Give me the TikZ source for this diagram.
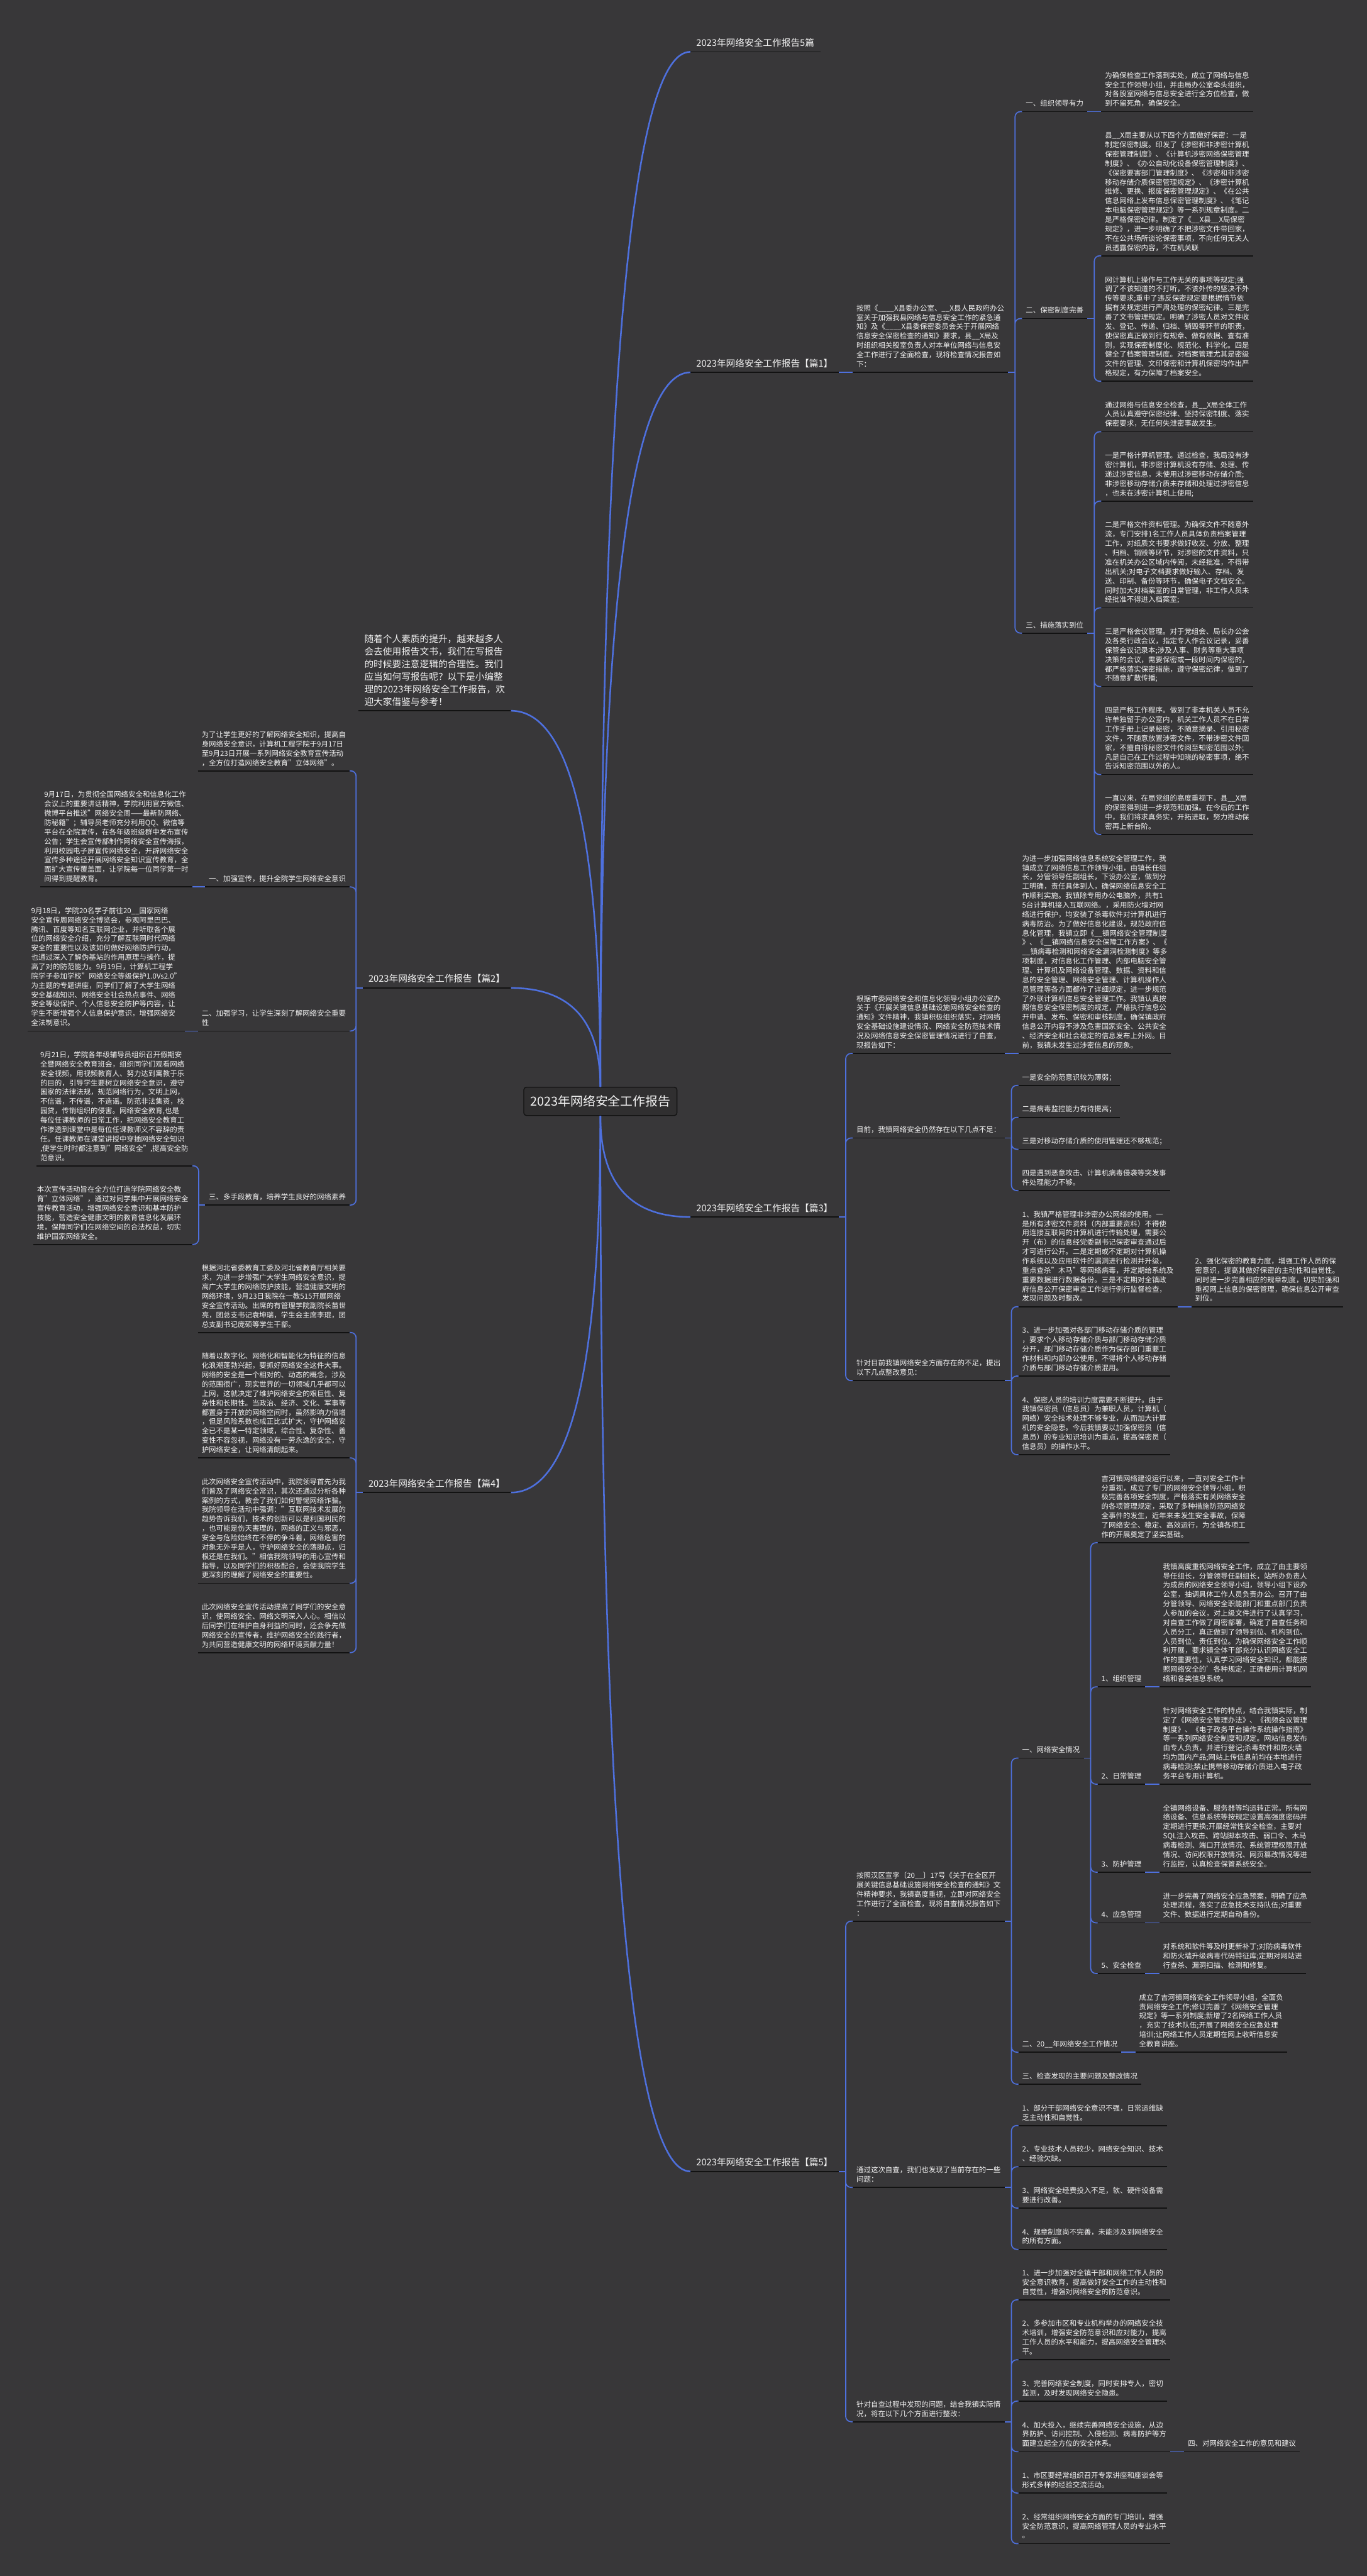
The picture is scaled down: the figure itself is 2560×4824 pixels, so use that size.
\documentclass[tikz,border=0pt]{standalone}
\usepackage{fontspec}
\setmainfont{Noto Sans CJK SC}
\usetikzlibrary{positioning,calc}
\definecolor{bgdark}{RGB}{56,55,57}
\definecolor{wireblue}{RGB}{78,112,222}
\definecolor{inkwhite}{RGB}{242,242,242}
\definecolor{baseblack}{RGB}{18,18,18}

\begin{document}
\begin{tikzpicture}[x=1pt, y=-1pt,
  uline/.style={draw=baseblack, line width=2pt},
  txtnode/.style={font=\fontsize{13.5}{17.5}\selectfont, text=inkwhite, align=left,
    inner xsep=7pt, inner ysep=4.75pt, execute at end node=\strut,
    append after command={\pgfextra{\let\mainnode=\tikzlastnode}
      (\mainnode.south west) edge[uline] (\mainnode.south east)}},
  topic/.style={txtnode, font=\fontsize{17.3}{23.5}\selectfont, inner xsep=11pt, inner ysep=3.4pt},
  hub/.style={draw=baseblack, line width=1.6pt, rounded corners=5pt, fill=bgdark!85!black,
    text=inkwhite, font=\fontsize{23.4}{28}\selectfont, minimum width=287pt, minimum height=53pt},
  wire/.style={draw=wireblue, line width=2pt},
  fork/.style={wire, rounded corners=10pt, to path={|- (\tikztotarget)}},
  trunk/.style={draw=wireblue, line width=3pt,
    to path={.. controls ($(\tikztostart)!0.667!(\tikztostart|-\tikztotarget)$)
      and ($(\tikztotarget)!0.667!(\tikztostart|-\tikztotarget)$) .. (\tikztotarget)}}
]
\useasboundingbox (0,0) rectangle (2560,4824);
\fill[bgdark] (0,0) rectangle (2560,4824);

\node[hub] (root) at (1124.5,2062.5) {2023年网络安全工作报告};

\node[topic, anchor=south west] (all5) at (1293,97) {2023年网络安全工作报告5篇};

\node[topic, anchor=south west] (p1) at (1293,697.3) {2023年网络安全工作报告【篇1】};
\node[txtnode, right=26pt of p1.south east, anchor=south west] (p1lead) {按照《\_\_\_\_X县委办公室、\_\_X县人民政府办公\\
室关于加强我县网络与信息安全工作的紧急通\\
知》及《\_\_\_\_X县委保密委员会关于开展网络\\
信息安全保密检查的通知》要求，县\_\_X局及\\
时组织相关股室负责人对本单位网络与信息安\\
全工作进行了全面检查，现将检查情况报告如\\
下：};
\node[txtnode, anchor=south west, xshift=26pt] (p1org) at (p1lead.south east|-0,209) {一、组织领导有力};
\node[txtnode, right=26pt of p1org.south east, anchor=south west] (p1orgtxt) {为确保检查工作落到实处，成立了网络与信息\\
安全工作领导小组，并由局办公室牵头组织，\\
对各股室网络与信息安全进行全方位检查，做\\
到不留死角，确保安全。};
\node[txtnode, anchor=south west, xshift=26pt] (p1rule) at (p1lead.south east|-0,596.5) {二、保密制度完善};
\node[txtnode, anchor=south west, xshift=26pt] (p1rulea) at (p1rule.south east|-0,479) {县\_\_X局主要从以下四个方面做好保密：一是\\
制定保密制度。印发了《涉密和非涉密计算机\\
保密管理制度》、《计算机涉密网络保密管理\\
制度》、《办公自动化设备保密管理制度》、\\
《保密要害部门管理制度》、《涉密和非涉密\\
移动存储介质保密管理规定》、《涉密计算机\\
维修、更换、报废保密管理规定》、《在公共\\
信息网络上发布信息保密管理制度》、《笔记\\
本电脑保密管理规定》等一系列规章制度。二\\
是严格保密纪律。制定了《\_\_X县\_\_X局保密\\
规定》，进一步明确了不把涉密文件带回家，\\
不在公共场所谈论保密事项，不向任何无关人\\
员透露保密内容，不在机关联};
\node[txtnode, anchor=south west, xshift=26pt] (p1ruleb) at (p1rule.south east|-0,714) {网计算机上操作与工作无关的事项等规定;强\\
调了不该知道的不打听，不该外传的坚决不外\\
传等要求;重申了违反保密规定要根据情节依\\
据有关规定进行严肃处理的保密纪律。三是完\\
善了文书管理规定。明确了涉密人员对文件收\\
发、登记、传递、归档、销毁等环节的职责，\\
使保密真正做到行有规章、做有依据、查有准\\
则，实现保密制度化、规范化、科学化。四是\\
健全了档案管理制度。对档案管理尤其是密级\\
文件的管理、文印保密和计算机保密均作出严\\
格规定，有力保障了档案安全。};
\node[txtnode, anchor=south west, xshift=26pt] (p1act) at (p1lead.south east|-0,1185.6) {三、措施落实到位};
\node[txtnode, anchor=south west, xshift=26pt] (p1acta) at (p1act.south east|-0,808.5) {通过网络与信息安全检查，县\_\_X局全体工作\\
人员认真遵守保密纪律、坚持保密制度、落实\\
保密要求，无任何失泄密事故发生。};
\node[txtnode, anchor=south west, xshift=26pt] (p1actb) at (p1act.south east|-0,938.4) {一是严格计算机管理。通过检查，我局没有涉\\
密计算机，非涉密计算机没有存储、处理、传\\
递过涉密信息，未使用过涉密移动存储介质;\\
非涉密移动存储介质未存储和处理过涉密信息\\
，也未在涉密计算机上使用;};
\node[txtnode, anchor=south west, xshift=26pt] (p1actc) at (p1act.south east|-0,1138.3) {二是严格文件资料管理。为确保文件不随意外\\
流，专门安排1名工作人员具体负责档案管理\\
工作，对纸质文书要求做好收发、分放、整理\\
、归档、销毁等环节，对涉密的文件资料，只\\
准在机关办公区域内传阅，未经批准，不得带\\
出机关;对电子文档要求做好输入、存档、发\\
送、印制、备份等环节，确保电子文档安全。\\
同时加大对档案室的日常管理，非工作人员未\\
经批准不得进入档案室;};
\node[txtnode, anchor=south west, xshift=26pt] (p1actd) at (p1act.south east|-0,1285.6) {三是严格会议管理。对于党组会、局长办公会\\
及各类行政会议，指定专人作会议记录，妥善\\
保管会议记录本;涉及人事、财务等重大事项\\
决策的会议，需要保密或一段时间内保密的，\\
都严格落实保密措施，遵守保密纪律，做到了\\
不随意扩散传播;};
\node[txtnode, anchor=south west, xshift=26pt] (p1acte) at (p1act.south east|-0,1450.5) {四是严格工作程序。做到了非本机关人员不允\\
许单独留于办公室内，机关工作人员不在日常\\
工作手册上记录秘密，不随意摘录、引用秘密\\
文件，不随意放置涉密文件，不带涉密文件回\\
家，不擅自将秘密文件传阅至知密范围以外;\\
凡是自己在工作过程中知晓的秘密事项，绝不\\
告诉知密范围以外的人。};
\node[txtnode, anchor=south west, xshift=26pt] (p1actf) at (p1act.south east|-0,1562.8) {一直以来，在局党组的高度重视下，县\_\_X局\\
的保密得到进一步规范和加强。在今后的工作\\
中，我们将求真务实，开拓进取，努力推动保\\
密再上新台阶。};

\node[topic, anchor=south west] (p3) at (1293,2279) {2023年网络安全工作报告【篇3】};
\node[txtnode, anchor=south west, xshift=26pt] (p3basis) at (p3.south east|-0,1972.7) {根据市委网络安全和信息化领导小组办公室办\\
关于《开展关键信息基础设施网络安全检查的\\
通知》文件精神，我镇积极组织落实，对网络\\
安全基础设施建设情况、网络安全防范技术情\\
况及网络信息安全保密管理情况进行了自查，\\
现报告如下：};
\node[txtnode, right=26pt of p3basis.south east, anchor=south west] (p3basistxt) {为进一步加强网络信息系统安全管理工作，我\\
镇成立了网络信息工作领导小组，由镇长任组\\
长，分管领导任副组长，下设办公室，做到分\\
工明确，责任具体到人，确保网络信息安全工\\
作顺利实施。我镇除专用办公电脑外，共有1\\
5台计算机接入互联网络。，采用防火墙对网\\
络进行保护，均安装了杀毒软件对计算机进行\\
病毒防治。为了做好信息化建设，规范政府信\\
息化管理，我镇立即《\_\_镇网络安全管理制度\\
》、《\_\_镇网络信息安全保障工作方案》、《\\
\_\_镇病毒检测和网络安全漏洞检测制度》等多\\
项制度，对信息化工作管理、内部电脑安全管\\
理、计算机及网络设备管理、数据、资料和信\\
息的安全管理、网络安全管理、计算机操作人\\
员管理等各方面都作了详细规定，进一步规范\\
了外联计算机信息安全管理工作。我镇认真按\\
照信息安全保密制度的规定，严格执行信息公\\
开申请、发布、保密和审核制度，确保镇政府\\
信息公开内容不涉及危害国家安全、公共安全\\
、经济安全和社会稳定的信息发布上外网。目\\
前，我镇未发生过涉密信息的现象。};
\node[txtnode, anchor=south west, xshift=26pt] (p3gap) at (p3.south east|-0,2131) {目前，我镇网络安全仍然存在以下几点不足：};
\node[txtnode, anchor=south west, xshift=26pt] (p3gapa) at (p3gap.south east|-0,2032.5) {一是安全防范意识较为薄弱；};
\node[txtnode, anchor=south west, xshift=26pt] (p3gapb) at (p3gap.south east|-0,2092.4) {二是病毒监控能力有待提高；};
\node[txtnode, anchor=south west, xshift=26pt] (p3gapc) at (p3gap.south east|-0,2152.2) {三是对移动存储介质的使用管理还不够规范；};
\node[txtnode, anchor=south west, xshift=26pt] (p3gapd) at (p3gap.south east|-0,2229.6) {四是遇到恶意攻击、计算机病毒侵袭等突发事\\
件处理能力不够。};
\node[txtnode, anchor=south west, xshift=26pt] (p3fix) at (p3.south east|-0,2585.5) {针对目前我镇网络安全方面存在的不足，提出\\
以下几点整改意见：};
\node[txtnode, anchor=south west, xshift=26pt] (p3fixa) at (p3fix.south east|-0,2446.9) {1、我镇严格管理非涉密办公网络的使用。一\\
是所有涉密文件资料（内部重要资料）不得使\\
用连接互联网的计算机进行传输处理，需要公\\
开（布）的信息经党委副书记保密审查通过后\\
才可进行公开。二是定期或不定期对计算机操\\
作系统以及应用软件的漏洞进行检测并升级，\\
重点查杀"木马"等网络病毒，并定期给系统及\\
重要数据进行数据备份。三是不定期对全镇政\\
府信息公开保密审查工作进行例行监督检查，\\
发现问题及时整改。};
\node[txtnode, right=26pt of p3fixa.south east, anchor=south west] (p3fixb) {2、强化保密的教育力度，增强工作人员的保\\
密意识，提高其做好保密的主动性和自觉性。\\
同时进一步完善相应的规章制度，切实加强和\\
重视网上信息的保密管理，确保信息公开审查\\
到位。};
\node[txtnode, anchor=south west, xshift=26pt] (p3fixc) at (p3fix.south east|-0,2576.8) {3、进一步加强对各部门移动存储介质的管理\\
，要求个人移动存储介质与部门移动存储介质\\
分开，部门移动存储介质作为保存部门重要工\\
作材料和内部办公使用，不得将个人移动存储\\
介质与部门移动存储介质混用。};
\node[txtnode, anchor=south west, xshift=26pt] (p3fixd) at (p3fix.south east|-0,2724.1) {4、保密人员的培训力度需要不断提升。由于\\
我镇保密员（信息员）为兼职人员，计算机（\\
网络）安全技术处理不够专业，从而加大计算\\
机的安全隐患。今后我镇要以加强保密员（信\\
息员）的专业知识培训为重点，提高保密员（\\
信息员）的操作水平。};

\node[topic, anchor=south west] (p5) at (1293,4066.3) {2023年网络安全工作报告【篇5】};
\node[txtnode, anchor=south west, xshift=26pt] (p5lead) at (p5.south east|-0,3597.6) {按照汉区宣字〔20\_\_〕17号《关于在全区开\\
展关键信息基础设施网络安全检查的通知》文\\
件精神要求，我镇高度重视，立即对网络安全\\
工作进行了全面检查，现将自查情况报告如下\\
：};
\node[txtnode, anchor=south west, xshift=26pt] (p5net) at (p5lead.south east|-0,3292.3) {一、网络安全情况};
\node[txtnode, anchor=south west, xshift=26pt] (p5neta) at (p5net.south east|-0,2889) {吉河镇网络建设运行以来，一直对安全工作十\\
分重视，成立了专门的网络安全领导小组，积\\
极完善各项安全制度，严格落实有关网络安全\\
的各项管理规定，采取了多种措施防范网络安\\
全事件的发生，近年来未发生安全事故，保障\\
了网络安全、稳定、高效运行，为全镇各项工\\
作的开展奠定了坚实基础。};
\node[txtnode, anchor=south west, xshift=26pt] (p5org) at (p5net.south east|-0,3158.8) {1、组织管理};
\node[txtnode, right=26pt of p5org.south east, anchor=south west] (p5orgtxt) {我镇高度重视网络安全工作，成立了由主要领\\
导任组长，分管领导任副组长，站所办负责人\\
为成员的网络安全领导小组，领导小组下设办\\
公室，抽调具体工作人员负责办公。召开了由\\
分管领导、网络安全职能部门和重点部门负责\\
人参加的会议，对上级文件进行了认真学习，\\
对自查工作做了周密部署，确定了自查任务和\\
人员分工，真正做到了领导到位、机构到位、\\
人员到位、责任到位。为确保网络安全工作顺\\
利开展，要求镇全体干部充分认识网络安全工\\
作的重要性，认真学习网络安全知识，都能按\\
照网络安全的'各种规定，正确使用计算机网\\
络和各类信息系统。};
\node[txtnode, anchor=south west, xshift=26pt] (p5day) at (p5net.south east|-0,3341.2) {2、日常管理};
\node[txtnode, right=26pt of p5day.south east, anchor=south west] (p5daytxt) {针对网络安全工作的特点，结合我镇实际，制\\
定了《网络安全管理办法》、《视频会议管理\\
制度》、《电子政务平台操作系统操作指南》\\
等一系列网络安全制度和规定。网站信息发布\\
由专人负责，并进行登记;杀毒软件和防火墙\\
均为国内产品;网站上传信息前均在本地进行\\
病毒检测;禁止携带移动存储介质进入电子政\\
务平台专用计算机。};
\node[txtnode, anchor=south west, xshift=26pt] (p5def) at (p5net.south east|-0,3506) {3、防护管理};
\node[txtnode, right=26pt of p5def.south east, anchor=south west] (p5deftxt) {全镇网络设备、服务器等均运转正常。所有网\\
络设备、信息系统等按规定设置高强度密码并\\
定期进行更换;开展经常性安全检查，主要对\\
SQL注入攻击、跨站脚本攻击、弱口令、木马\\
病毒检测、端口开放情况、系统管理权限开放\\
情况、访问权限开放情况、网页篡改情况等进\\
行监控，认真检查保管系统安全。};
\node[txtnode, anchor=south west, xshift=26pt] (p5emg) at (p5net.south east|-0,3600.9) {4、应急管理};
\node[txtnode, right=26pt of p5emg.south east, anchor=south west] (p5emgtxt) {进一步完善了网络安全应急预案，明确了应急\\
处理流程，落实了应急技术支持队伍;对重要\\
文件、数据进行定期自动备份。};
\node[txtnode, anchor=south west, xshift=26pt] (p5chk) at (p5net.south east|-0,3695.7) {5、安全检查};
\node[txtnode, right=26pt of p5chk.south east, anchor=south west] (p5chktxt) {对系统和软件等及时更新补丁;对防病毒软件\\
和防火墙升级病毒代码特征库;定期对网站进\\
行查杀、漏洞扫描、检测和修复。};
\node[txtnode, anchor=south west, xshift=26pt] (p5year) at (p5lead.south east|-0,3843.1) {二、20\_\_年网络安全工作情况};
\node[txtnode, right=26pt of p5year.south east, anchor=south west] (p5yeartxt) {成立了吉河镇网络安全工作领导小组，全面负\\
责网络安全工作;修订完善了《网络安全管理\\
规定》等一系列制度;新增了2名网络工作人员\\
，充实了技术队伍;开展了网络安全应急处理\\
培训;让网络工作人员定期在网上收听信息安\\
全教育讲座。};
\node[txtnode, anchor=south west, xshift=26pt] (p5issue) at (p5lead.south east|-0,3902.9) {三、检查发现的主要问题及整改情况};
\node[txtnode, anchor=south west, xshift=26pt] (p5found) at (p5.south east|-0,4096.3) {通过这次自查，我们也发现了当前存在的一些\\
问题：};
\node[txtnode, anchor=south west, xshift=26pt] (p5founda) at (p5found.south east|-0,3980.3) {1、部分干部网络安全意识不强，日常运维缺\\
乏主动性和自觉性。};
\node[txtnode, anchor=south west, xshift=26pt] (p5foundb) at (p5found.south east|-0,4057.6) {2、专业技术人员较少，网络安全知识、技术\\
、经验欠缺。};
\node[txtnode, anchor=south west, xshift=26pt] (p5foundc) at (p5found.south east|-0,4135) {3、网络安全经费投入不足，软、硬件设备需\\
要进行改善。};
\node[txtnode, anchor=south west, xshift=26pt] (p5foundd) at (p5found.south east|-0,4212.3) {4、规章制度尚不完善，未能涉及到网络安全\\
的所有方面。};
\node[txtnode, anchor=south west, xshift=26pt] (p5plan) at (p5.south east|-0,4535) {针对自查过程中发现的问题，结合我镇实际情\\
况，将在以下几个方面进行整改：};
\node[txtnode, anchor=south west, xshift=26pt] (p5plana) at (p5plan.south east|-0,4306.7) {1、进一步加强对全镇干部和网络工作人员的\\
安全意识教育，提高做好安全工作的主动性和\\
自觉性，增强对网络安全的防范意识。};
\node[txtnode, anchor=south west, xshift=26pt] (p5planb) at (p5plan.south east|-0,4419) {2、多参加市区和专业机构举办的网络安全技\\
术培训，增强安全防范意识和应对能力，提高\\
工作人员的水平和能力，提高网络安全管理水\\
平。};
\node[txtnode, anchor=south west, xshift=26pt] (p5planc) at (p5plan.south east|-0,4496.4) {3、完善网络安全制度，同时安排专人，密切\\
监测，及时发现网络安全隐患。};
\node[txtnode, anchor=south west, xshift=26pt] (p5pland) at (p5plan.south east|-0,4591.2) {4、加大投入，继续完善网络安全设施，从边\\
界防护、访问控制、入侵检测、病毒防护等方\\
面建立起全方位的安全体系。};
\node[txtnode, right=26pt of p5pland.south east, anchor=south west] (p5advice) {四、对网络安全工作的意见和建议};
\node[txtnode, anchor=south west, xshift=26pt] (p5plane) at (p5plan.south east|-0,4668.6) {1、市区要经常组织召开专家讲座和座谈会等\\
形式多样的经验交流活动。};
\node[txtnode, anchor=south west, xshift=26pt] (p5planf) at (p5plan.south east|-0,4763.4) {2、经常组织网络安全方面的专门培训，增强\\
安全防范意识，提高网络管理人员的专业水平\\
。};

\node[topic, anchor=south east] (intro) at (957,1331) {随着个人素质的提升，越来越多人\\
会去使用报告文书，我们在写报告\\
的时候要注意逻辑的合理性。我们\\
应当如何写报告呢？以下是小编整\\
理的2023年网络安全工作报告，欢\\
迎大家借鉴与参考！};

\node[topic, anchor=south east] (p2) at (957,1850.1) {2023年网络安全工作报告【篇2】};
\node[txtnode, anchor=south east, xshift=-24pt] (p2aim) at (p2.south west|-0,1443.5) {为了让学生更好的了解网络安全知识，提高自\\
身网络安全意识，计算机工程学院于9月17日\\
至9月23日开展一系列网络安全教育宣传活动\\
，全方位打造网络安全教育"立体网络"。};
\node[txtnode, anchor=south east, xshift=-24pt] (p2pub) at (p2.south west|-0,1660.9) {一、加强宣传，提升全院学生网络安全意识};
\node[txtnode, left=24pt of p2pub.south west, anchor=south east] (p2pubtxt) {9月17日，为贯彻全国网络安全和信息化工作\\
会议上的重要讲话精神，学院利用官方微信、\\
微博平台推送"网络安全周——最新防网络、\\
防秘籍"；辅导员老师充分利用QQ、微信等\\
平台在全院宣传，在各年级班级群中发布宣传\\
公告；学生会宣传部制作网络安全宣传海报，\\
利用校园电子屏宣传网络安全，开辟网络安全\\
宣传多种途径开展网络安全知识宣传教育，全\\
面扩大宣传覆盖面，让学院每一位同学第一时\\
间得到提醒教育。};
\node[txtnode, anchor=south east, xshift=-24pt] (p2learn) at (p2.south west|-0,1930.7) {二、加强学习，让学生深刻了解网络安全重要\\
性};
\node[txtnode, left=24pt of p2learn.south west, anchor=south east] (p2learntxt) {9月18日，学院20名学子前往20\_\_国家网络\\
安全宣传周网络安全博览会，参观阿里巴巴、\\
腾讯、百度等知名互联网企业，并听取各个展\\
位的网络安全介绍，充分了解互联网时代网络\\
安全的重要性以及该如何做好网络防护行动，\\
也通过深入了解伪基站的作用原理与操作，提\\
高了对的防范能力。9月19日，计算机工程学\\
院学子参加学校"网络安全等级保护1.0Vs2.0"\\
为主题的专题讲座，同学们了解了大学生网络\\
安全基础知识、网络安全社会热点事件、网络\\
安全等级保护、个人信息安全防护等内容，让\\
学生不断增强个人信息保护意识，增强网络安\\
全法制意识。};
\node[txtnode, anchor=south east, xshift=-24pt] (p2edu) at (p2.south west|-0,2256.7) {三、多手段教育，培养学生良好的网络素养};
\node[txtnode, anchor=south east, xshift=-24pt] (p2edua) at (p2edu.south west|-0,2183.1) {9月21日，学院各年级辅导员组织召开假期安\\
全暨网络安全教育班会，组织同学们观看网络\\
安全视频，用视频教育人、努力达到寓教于乐\\
的目的，引导学生要树立网络安全意识，遵守\\
国家的法律法规，规范网络行为，文明上网，\\
不信谣，不传谣，不造谣。防范非法集资，校\\
园贷，传销组织的侵害。网络安全教育,也是\\
每位任课教师的日常工作，把网络安全教育工\\
作渗透到课堂中是每位任课教师义不容辞的责\\
任。任课教师在课堂讲授中穿插网络安全知识\\
,使学生时时都注意到"网络安全",提高安全防\\
范意识。};
\node[txtnode, anchor=south east, xshift=-24pt] (p2edub) at (p2edu.south west|-0,2330.4) {本次宣传活动旨在全方位打造学院网络安全教\\
育"立体网络"，通过对同学集中开展网络安全\\
宣传教育活动，增强网络安全意识和基本防护\\
技能，营造安全健康文明的教育信息化发展环\\
境，保障同学们在网络空间的合法权益，切实\\
维护国家网络安全。};

\node[topic, anchor=south east] (p4) at (957,2795) {2023年网络安全工作报告【篇4】};
\node[txtnode, anchor=south east, xshift=-24pt] (p4a) at (p4.south west|-0,2495.3) {根据河北省委教育工委及河北省教育厅相关要\\
求，为进一步增强广大学生网络安全意识，提\\
高广大学生的网络防护技能，营造健康文明的\\
网络环境，9月23日我院在一教515开展网络\\
安全宣传活动。出席的有管理学院副院长苗世\\
亮，团总支书记袁坤瑞，学生会主席李琨，团\\
总支副书记庞硕等学生干部。};
\node[txtnode, anchor=south east, xshift=-24pt] (p4b) at (p4.south west|-0,2730.1) {随着以数字化、网络化和智能化为特征的信息\\
化浪潮蓬勃兴起，要抓好网络安全这件大事。\\
网络的安全是一个相对的、动态的概念，涉及\\
的范围很广，现实世界的一切领域几乎都可以\\
上网，这就决定了维护网络安全的艰巨性、复\\
杂性和长期性。当政治、经济、文化、军事等\\
都置身于开放的网络空间时，虽然影响力倍增\\
，但是风险系数也成正比式扩大，守护网络安\\
全已不是某一特定领域，综合性、复杂性、善\\
变性不容忽视，网络没有一劳永逸的安全，守\\
护网络安全，让网络清朗起来。};
\node[txtnode, anchor=south east, xshift=-24pt] (p4c) at (p4.south west|-0,2965) {此次网络安全宣传活动中，我院领导首先为我\\
们普及了网络安全常识，其次还通过分析各种\\
案例的方式，教会了我们如何警惕网络诈骗。\\
我院领导在活动中强调："互联网技术发展的\\
趋势告诉我们，技术的创新可以是利国利民的\\
，也可能是伤天害理的，网络的正义与邪恶，\\
安全与危险始终在不停的争斗着，网络危害的\\
对象无外乎是人，守护网络安全的落脚点，归\\
根还是在我们。"相信我院领导的用心宣传和\\
指导，以及同学们的积极配合，会使我院学生\\
更深刻的理解了网络安全的重要性。};
\node[txtnode, anchor=south east, xshift=-24pt] (p4d) at (p4.south west|-0,3094.8) {此次网络安全宣传活动提高了同学们的安全意\\
识，使网络安全、网络文明深入人心。相信以\\
后同学们在维护自身利益的同时，还会争先做\\
网络安全的宣传者，维护网络安全的践行者，\\
为共同营造健康文明的网络环境贡献力量！};

\draw[trunk] (root.north) to (all5.south west);
\draw[trunk] (root.north) to (p1.south west);
\draw[trunk] (root.north) to (intro.south east);
\draw[trunk] (root.north) to (p2.south east);
\draw[trunk] (root.south) to (p3.south west);
\draw[trunk] (root.south) to (p4.south east);
\draw[trunk] (root.south) to (p5.south west);

\draw[wire] (p1.south east) -- (p1lead.south west);
\draw[wire] (p1lead.south east) -- ++(13,0);
\draw[fork] ([xshift=13pt]p1lead.south east) to (p1org.south west)
  ([xshift=13pt]p1lead.south east) to (p1rule.south west)
  ([xshift=13pt]p1lead.south east) to (p1act.south west);
\draw[wire] (p1org.south east) -- (p1orgtxt.south west);
\draw[wire] (p1rule.south east) -- ++(13,0);
\draw[fork] ([xshift=13pt]p1rule.south east) to (p1rulea.south west)
  ([xshift=13pt]p1rule.south east) to (p1ruleb.south west);
\draw[wire] (p1act.south east) -- ++(13,0);
\draw[fork] ([xshift=13pt]p1act.south east) to (p1acta.south west)
  ([xshift=13pt]p1act.south east) to (p1actb.south west)
  ([xshift=13pt]p1act.south east) to (p1actc.south west)
  ([xshift=13pt]p1act.south east) to (p1actd.south west)
  ([xshift=13pt]p1act.south east) to (p1acte.south west)
  ([xshift=13pt]p1act.south east) to (p1actf.south west);

\draw[wire] (p3.south east) -- ++(13,0);
\draw[fork] ([xshift=13pt]p3.south east) to (p3basis.south west)
  ([xshift=13pt]p3.south east) to (p3gap.south west)
  ([xshift=13pt]p3.south east) to (p3fix.south west);
\draw[wire] (p3basis.south east) -- (p3basistxt.south west);
\draw[wire] (p3gap.south east) -- ++(13,0);
\draw[fork] ([xshift=13pt]p3gap.south east) to (p3gapa.south west)
  ([xshift=13pt]p3gap.south east) to (p3gapb.south west)
  ([xshift=13pt]p3gap.south east) to (p3gapc.south west)
  ([xshift=13pt]p3gap.south east) to (p3gapd.south west);
\draw[wire] (p3fix.south east) -- ++(13,0);
\draw[fork] ([xshift=13pt]p3fix.south east) to (p3fixa.south west)
  ([xshift=13pt]p3fix.south east) to (p3fixc.south west)
  ([xshift=13pt]p3fix.south east) to (p3fixd.south west);
\draw[wire] (p3fixa.south east) -- (p3fixb.south west);

\draw[wire] (p5.south east) -- ++(13,0);
\draw[fork] ([xshift=13pt]p5.south east) to (p5lead.south west)
  ([xshift=13pt]p5.south east) to (p5found.south west)
  ([xshift=13pt]p5.south east) to (p5plan.south west);
\draw[wire] (p5lead.south east) -- ++(13,0);
\draw[fork] ([xshift=13pt]p5lead.south east) to (p5net.south west)
  ([xshift=13pt]p5lead.south east) to (p5year.south west)
  ([xshift=13pt]p5lead.south east) to (p5issue.south west);
\draw[wire] (p5net.south east) -- ++(13,0);
\draw[fork] ([xshift=13pt]p5net.south east) to (p5neta.south west)
  ([xshift=13pt]p5net.south east) to (p5org.south west)
  ([xshift=13pt]p5net.south east) to (p5day.south west)
  ([xshift=13pt]p5net.south east) to (p5def.south west)
  ([xshift=13pt]p5net.south east) to (p5emg.south west)
  ([xshift=13pt]p5net.south east) to (p5chk.south west);
\draw[wire] (p5org.south east) -- (p5orgtxt.south west);
\draw[wire] (p5day.south east) -- (p5daytxt.south west);
\draw[wire] (p5def.south east) -- (p5deftxt.south west);
\draw[wire] (p5emg.south east) -- (p5emgtxt.south west);
\draw[wire] (p5chk.south east) -- (p5chktxt.south west);
\draw[wire] (p5year.south east) -- (p5yeartxt.south west);
\draw[wire] (p5found.south east) -- ++(13,0);
\draw[fork] ([xshift=13pt]p5found.south east) to (p5founda.south west)
  ([xshift=13pt]p5found.south east) to (p5foundb.south west)
  ([xshift=13pt]p5found.south east) to (p5foundc.south west)
  ([xshift=13pt]p5found.south east) to (p5foundd.south west);
\draw[wire] (p5plan.south east) -- ++(13,0);
\draw[fork] ([xshift=13pt]p5plan.south east) to (p5plana.south west)
  ([xshift=13pt]p5plan.south east) to (p5planb.south west)
  ([xshift=13pt]p5plan.south east) to (p5planc.south west)
  ([xshift=13pt]p5plan.south east) to (p5pland.south west)
  ([xshift=13pt]p5plan.south east) to (p5plane.south west)
  ([xshift=13pt]p5plan.south east) to (p5planf.south west);
\draw[wire] (p5pland.south east) -- (p5advice.south west);

\draw[wire] (p2.south west) -- ++(-12,0);
\draw[fork] ([xshift=-12pt]p2.south west) to (p2aim.south east)
  ([xshift=-12pt]p2.south west) to (p2pub.south east)
  ([xshift=-12pt]p2.south west) to (p2learn.south east)
  ([xshift=-12pt]p2.south west) to (p2edu.south east);
\draw[wire] (p2pub.south west) -- (p2pubtxt.south east);
\draw[wire] (p2learn.south west) -- (p2learntxt.south east);
\draw[wire] (p2edu.south west) -- ++(-12,0);
\draw[fork] ([xshift=-12pt]p2edu.south west) to (p2edua.south east)
  ([xshift=-12pt]p2edu.south west) to (p2edub.south east);

\draw[wire] (p4.south west) -- ++(-12,0);
\draw[fork] ([xshift=-12pt]p4.south west) to (p4a.south east)
  ([xshift=-12pt]p4.south west) to (p4b.south east)
  ([xshift=-12pt]p4.south west) to (p4c.south east)
  ([xshift=-12pt]p4.south west) to (p4d.south east);

\end{tikzpicture}
\end{document}
